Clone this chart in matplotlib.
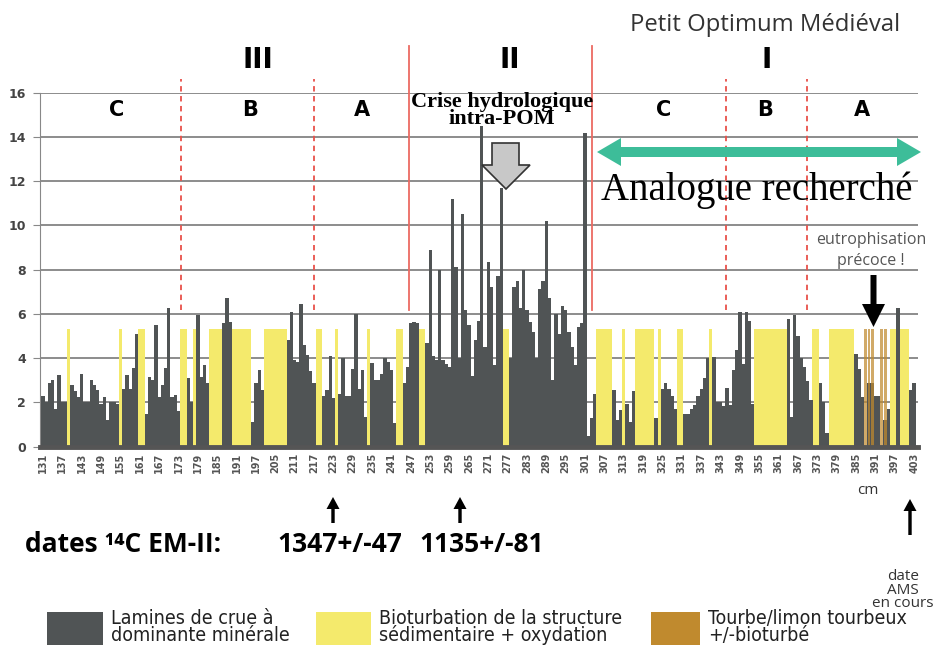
import matplotlib
matplotlib.use('Agg')
import numpy as np
import matplotlib.pyplot as plt
import matplotlib.patches as mpatches

W, H = 936, 645

# depth labels shown under the bars (one label every 6 bars)
tick_labels = ['131', '137', '143', '149', '155', '161', '167', '173', '179',
               '185', '191', '197', '205', '211', '217', '223', '229', '235',
               '241', '247', '253', '259', '265', '271', '277', '283', '289',
               '295', '301', '307', '313', '319', '325', '331', '337', '343',
               '349', '355', '361', '367', '373', '379', '385', '391', '397',
               '403']

# flood laminae thickness, one value per bar (0 = no grey bar)
gray = [
    2.3, 2.0, 2.9, 3.0, 1.7, 3.25, 2.0, 2.0, 0, 2.8,
    2.5, 2.25, 3.3, 2.0, 2.0, 3.0, 2.8, 2.55, 1.95, 2.25,
    1.2, 2.0, 2.0, 1.95, 0, 2.6, 3.25, 2.6, 3.55, 5.1,
    0, 0, 1.5, 3.15, 3.0, 5.5, 2.25, 2.8, 3.55, 6.25,
    2.25, 2.33, 1.6, 0, 0, 3.1, 2.0, 0, 5.95, 3.16,
    3.7, 2.86, 0, 0, 0, 0, 5.57, 6.7, 5.65, 0,
    0, 0, 0, 0, 0, 1.1, 2.86, 3.46, 2.56, 0,
    0, 0, 0, 0, 0, 0, 4.8, 6.1, 3.9, 3.85,
    6.45, 4.6, 4.15, 3.4, 2.9, 0, 0, 2.3, 2.56, 4.1,
    2.2, 0, 2.4, 4.0, 2.3, 2.3, 3.5, 6.0, 2.6, 3.45,
    1.35, 0, 3.8, 3.0, 3.0, 3.3, 4.0, 3.85, 3.45, 1.05,
    0, 0, 2.9, 3.6, 5.57, 5.65, 5.57, 0, 0, 4.7,
    8.9, 4.1, 3.9, 8.0, 3.9, 3.75, 3.6, 11.2, 8.1, 4.0,
    10.5, 6.2, 5.5, 3.2, 4.8, 5.7, 14.5, 4.5, 8.35, 7.2,
    3.7, 7.7, 11.7, 0, 0, 4.0, 7.2, 7.5, 6.25, 8.0,
    6.2, 5.65, 5.2, 4.0, 7.15, 7.5, 10.2, 6.7, 3.0, 6.0,
    5.1, 6.35, 6.2, 5.2, 4.5, 3.7, 5.4, 5.57, 14.2, 0.5,
    1.3, 2.4, 0, 0, 0, 0, 0, 2.56, 1.2, 1.65,
    0, 1.95, 1.1, 2.5, 0, 0, 0, 0, 0, 0,
    1.3, 0, 2.6, 2.86, 2.6, 2.3, 1.7, 0, 0, 1.5,
    1.5, 1.7, 1.9, 2.3, 2.6, 3.1, 4.0, 0, 4.05, 2.0,
    2.0, 1.85, 2.65, 1.9, 3.45, 4.35, 6.1, 3.75, 6.1, 5.7,
    1.95, 0, 0, 0, 0, 0, 0, 0, 0, 0,
    0, 5.75, 1.35, 5.95, 5.0, 4.0, 3.6, 2.95, 2.1, 0,
    0, 2.86, 2.0, 0.6, 0, 0, 0, 0, 0, 0,
    0, 0, 4.2, 3.5, 2.26, 0, 2.86, 2.86, 2.3, 2.3,
    0, 1.2, 1.7, 0, 0, 6.25, 0, 0, 0, 2.56,
    2.9,
]

# facies per bar: y = bioturbation / oxydation, b = tourbe, . = none
fill = ("........y." ".........." "....y....." "yy........"
        "...yy..y.." "..yyyy...y" "yyyyy....y" "yyyyyy...."
        ".....yy..." ".y........" ".y........" "yy.....yy."
        ".........." ".........." "...yy....." ".........."
        ".........." "..yyyyy..." "y...yyyyyy" ".y.....yy."
        ".......y.." ".........." ".yyyyyyyyy" "y........y"
        "y...yyyyyy" "yy...bbb.." "bb.yy.yyy." ".")
fill_height = 5.3

# unit boundaries (bar positions) and whether they are main boundaries
bounds = [42.9, 83.9, 113.4, 170.1, 211.6, 236.7]
bound_main = [False, False, True, True, False, False]

GREY = '#505455'
YELLOW = '#f4ea6c'
BROWN = '#c08a2e'

x = np.arange(len(gray))
yellow_h = np.array([fill_height if f == 'y' else 0 for f in fill])
brown_h = np.array([fill_height if f == 'b' else 0 for f in fill])

fig = plt.figure(figsize=(W / 100, H / 100), dpi=100)
ax = fig.add_axes([40 / W, 1 - 446.7 / H, 878 / W, 354 / H])

ax.bar(x, yellow_h, width=1.0, color=YELLOW, linewidth=0, zorder=2)
ax.bar(x, gray, width=1.02, color=GREY, linewidth=0, zorder=3)
ax.bar(x, brown_h, width=0.9, color=BROWN, alpha=0.72, linewidth=0, zorder=4)

ax.set_xlim(-0.93, 271.2)
ax.set_ylim(0, 16)
ax.set_yticks(range(0, 17, 2))
ax.set_xticks(x[::6])
ax.set_xticklabels(tick_labels, rotation=90, fontsize=7, fontweight='bold',
                   color='#555555')
ax.tick_params(axis='x', length=0, pad=4)
ax.tick_params(axis='y', length=5, color='#888888', labelsize=9,
               labelcolor='#444444', pad=5)
for lab in ax.get_yticklabels():
    lab.set_fontweight('bold')
ax.grid(axis='y', color='#8c8c8c', linewidth=1.4)
ax.set_axisbelow(True)
for side in ['top', 'right']:
    ax.spines[side].set_visible(False)
ax.spines['left'].set_color('#888888')
ax.spines['bottom'].set_color('#555555')
ax.spines['bottom'].set_linewidth(3.5)
ax.spines['bottom'].set_zorder(5)

for pos, main in zip(bounds, bound_main):
    if main:
        ax.plot([pos, pos], [6.2, 18.1], color='#ec6a62', lw=1.3,
                clip_on=False, zorder=6)
    else:
        ax.plot([pos, pos], [6.2, 16.6], color='#e8504a', lw=1.3,
                ls=(0, (3, 2.5)), clip_on=False, zorder=6)


def ftext(px, py, s, **kw):
    fig.text(px / W, 1 - py / H, s, **kw)


def fpoly(pts, **kw):
    fig.add_artist(mpatches.Polygon([(a / W, 1 - b / H) for a, b in pts],
                                    closed=True, transform=fig.transFigure,
                                    **kw))


def up_arrow(px, tip, tail, shaft=3.4, head_w=13, head_l=12, **kw):
    s, h = shaft / 2, head_w / 2
    fpoly([(px, tip), (px + h, tip + head_l), (px + s, tip + head_l),
           (px + s, tail), (px - s, tail), (px - s, tip + head_l),
           (px - h, tip + head_l)], **kw)


sans = ['Open Sans', 'DejaVu Sans']
serif = ['Liberation Serif', 'DejaVu Serif']

ftext(765, 25, 'Petit Optimum Médiéval', family=sans, fontsize=17.2,
      color='#333333', ha='center', va='center')
for px, s in [(258, 'III'), (510, 'II'), (767, 'I')]:
    ftext(px, 60, s, fontsize=20, fontweight='bold', ha='center', va='center')
for px, s in [(117, 'C'), (250, 'B'), (362, 'A'),
              (664, 'C'), (765, 'B'), (862, 'A')]:
    ftext(px, 110, s, fontsize=15, fontweight='bold', ha='center',
          va='center')

ftext(502, 111, 'Crise hydrologique\nintra-POM', family=serif, fontsize=16,
      fontweight='bold', ha='center', va='center', linespacing=0.8)
fpoly([(492, 143), (519, 143), (519, 165), (530, 165), (506, 189),
       (482, 165), (492, 165)], facecolor='#c8c8c8', edgecolor='#333333',
      lw=1.2, zorder=10)

fpoly([(597, 152), (621, 138), (621, 147), (897, 147), (897, 138),
       (921, 152), (897, 166), (897, 157), (621, 157), (621, 166)],
      facecolor='#3dbd99', edgecolor='none', zorder=10)
ftext(757, 190, 'Analogue recherché', family=serif, fontsize=28,
      ha='center', va='center')

ftext(871, 240, 'eutrophisation', family=sans, fontsize=11.5,
      color='#555555', ha='center', va='center')
ftext(871, 261, 'précoce !', family=sans, fontsize=11.5, color='#555555',
      ha='center', va='center')
fpoly([(870.5, 275), (876.5, 275), (876.5, 304), (885, 304), (873.5, 327),
       (862, 304), (870.5, 304)], facecolor='black', edgecolor='none',
      zorder=10)

ftext(868, 490, 'cm', family=sans, fontsize=11, color='#333333',
      ha='center', va='center')

ftext(25, 545, 'dates ¹⁴C EM-II:', family=sans, fontsize=19,
      fontweight='bold', ha='left', va='center')
ftext(340, 545, '1347+/-47', family=sans, fontsize=19, fontweight='bold',
      ha='center', va='center')
ftext(482, 545, '1135+/-81', family=sans, fontsize=19, fontweight='bold',
      ha='center', va='center')
up_arrow(333, 497, 523, facecolor='black', edgecolor='none')
up_arrow(460, 497, 523, facecolor='black', edgecolor='none')
up_arrow(910, 499, 535, facecolor='black', edgecolor='none')
ftext(903, 590, 'date\nAMS\nen cours', family=sans, fontsize=11,
      color='#333333', ha='center', va='center', linespacing=0.9)

legend_items = [
    (47, 103, GREY, 'Lamines de crue à\ndominante minérale'),
    (316, 371, YELLOW, 'Bioturbation de la structure\nsédimentaire + oxydation'),
    (651, 700, BROWN, 'Tourbe/limon tourbeux\n+/-bioturbé'),
]
for x0, x1, col, lab in legend_items:
    fpoly([(x0, 612), (x1, 612), (x1, 646), (x0, 646)], facecolor=col,
          edgecolor='none')
    ftext(x1 + 8, 627, lab, family='DejaVu Sans', fontstretch='condensed',
          fontsize=14, color='#222222', ha='left', va='center',
          linespacing=0.85)

fig.savefig('out.png', dpi=100)
